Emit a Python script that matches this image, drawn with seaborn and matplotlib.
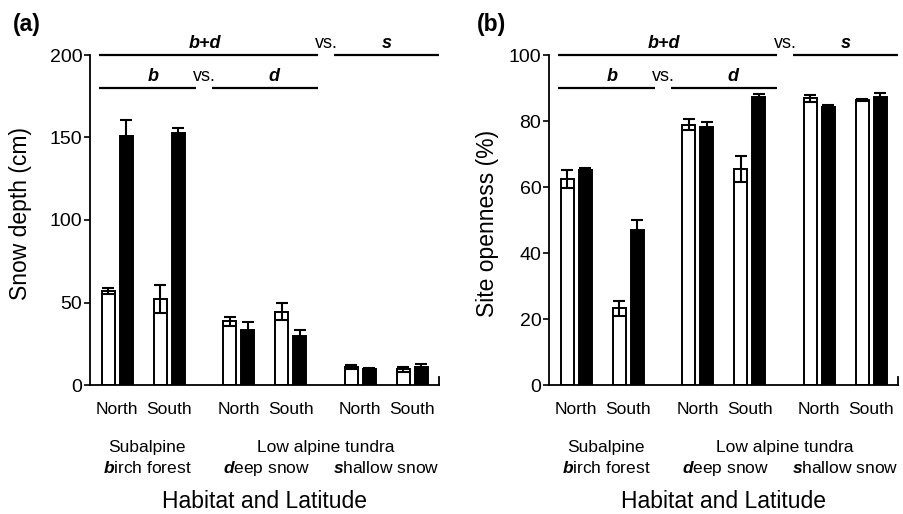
import matplotlib
matplotlib.use("Agg")
import matplotlib.pyplot as plt
import matplotlib.transforms as mtransforms
import numpy as np
import pandas as pd
import seaborn as sns

# ---------------- data ----------------
latitudes = ["North", "South", "North", "South", "North", "South"]
habitat_groups = ["b", "b", "d", "d", "s", "s"]
series_names = ["open bars", "filled bars"]

snow_white = [57, 52, 38.5, 44.5, 11, 9.5]
snow_white_err = [2, 8.5, 3, 5, 1, 1.7]
snow_black = [151, 153, 33.5, 30, 9.8, 11.2]
snow_black_err = [9.5, 3, 4.5, 3.4, 0.5, 1.5]

open_white = [62.5, 23.2, 78.9, 65.4, 86.9, 86.4]
open_white_err = [2.7, 2.3, 1.6, 4.0, 1.0, 0.4]
open_black = [65.0, 47.1, 78.3, 87.4, 84.1, 87.4]
open_black_err = [0.8, 3.0, 1.3, 0.7, 0.6, 1.0]

ylabels = ["Snow depth (cm)", "Site openness (%)"]
yticks_list = [[0, 50, 100, 150, 200], [0, 20, 40, 60, 80, 100]]
ylims = [200, 100]
panel_tags = ["(a)", "(b)"]

# ---------------- style ----------------
plt.rcParams["font.family"] = ["Liberation Sans", "DejaVu Sans"]
plt.rcParams["mathtext.fontset"] = "custom"
plt.rcParams["mathtext.rm"] = "Liberation Sans"
plt.rcParams["mathtext.it"] = "Liberation Sans:italic"
plt.rcParams["mathtext.bf"] = "Liberation Sans:bold"
try:
    plt.rcParams["mathtext.bfit"] = "Liberation Sans:italic:bold"
    BFIT = r"\mathbfit"
except KeyError:
    BFIT = r"\mathbf"

GROUP_STEP = 2.34
group_index = {"b": 0, "d": 1, "s": 2}
positions = [group_index[g] * GROUP_STEP + (0 if lat == "North" else 1)
             for g, lat in zip(habitat_groups, latitudes)]

fig = plt.figure(figsize=(9.04, 5.14), dpi=100)
W, H = 904, 514
ax_w = 349.4 / W
ax_h = 330 / H
ax_b = (H - 385) / H
axes = [fig.add_axes([90 / W, ax_b, ax_w, ax_h]),
        fig.add_axes([549 / W, ax_b, ax_w, ax_h])]

datasets = [
    (snow_white, snow_white_err, snow_black, snow_black_err),
    (open_white, open_white_err, open_black, open_black_err),
]
ylabel_pos = [(-0.2, 0.52), (-0.175, 0.49)]
tag_x = [13 / W, 477 / W]

for k, ax in enumerate(axes):
    w, we, b, be = datasets[k]
    df = pd.DataFrame({
        "pos": positions * 2,
        "value": list(w) + list(b),
        "series": [series_names[0]] * 6 + [series_names[1]] * 6,
    })
    sns.barplot(data=df, x="pos", y="value", hue="series",
                hue_order=series_names, palette=["white", "black"],
                native_scale=True, width=0.692, gap=0.277, errorbar=None,
                edgecolor="black", linewidth=1.4, legend=False, ax=ax)
    errs = [we, be]
    for ci, cont in enumerate(ax.containers[:2]):
        for bar, e in zip(cont, errs[ci]):
            cx = bar.get_x() + bar.get_width() / 2
            ax.errorbar(cx, bar.get_height(), yerr=e, fmt="none",
                        ecolor="black", elinewidth=1.5, capsize=4,
                        capthick=1.5, zorder=5)

    ax.set_xlim(-0.52, 6.2)
    ax.set_ylim(0, ylims[k])
    ax.set_yticks(yticks_list[k])
    ax.set_xticks(positions)
    ax.set_xticklabels(latitudes)
    ax.set_xlabel("")
    ax.set_ylabel("")
    for s in ["top", "right"]:
        ax.spines[s].set_visible(False)
    for s in ["left", "bottom"]:
        ax.spines[s].set_linewidth(1.3)
    ax.tick_params(axis="y", direction="out", length=4.5, width=1.2,
                   pad=1, labelsize=14)
    ax.tick_params(axis="x", length=0, pad=12, labelsize=12.5)

    trans = mtransforms.blended_transform_factory(ax.transData, ax.transAxes)
    # small upward tick at right end of the x axis
    ax.plot([6.2, 6.2], [0, 0.025], transform=trans, color="black",
            lw=1.3, clip_on=False)

    # comparison lines
    lk = dict(transform=trans, color="black", lw=1.6, clip_on=False,
              solid_capstyle="butt")
    ax.plot([-0.35, 3.86], [1.0, 1.0], **lk)
    ax.plot([4.18, 6.2], [1.0, 1.0], **lk)
    ax.plot([-0.35, 1.51], [0.899, 0.899], **lk)
    ax.plot([1.82, 3.86], [0.899, 0.899], **lk)
    tk = dict(transform=trans, ha="center", va="baseline", fontsize=13,
              clip_on=False)
    ax.text(1.7, 1.021, "b+d", fontweight="bold", style="italic", **tk)
    ax.text(4.02, 1.021, "vs.", **tk)
    ax.text(5.19, 1.021, "s", fontweight="bold", style="italic", **tk)
    ax.text(0.69, 0.921, "b", fontweight="bold", style="italic", **tk)
    ax.text(1.68, 0.921, "vs.", **tk)
    ax.text(3.01, 0.921, "d", fontweight="bold", style="italic", **tk)

    # habitat labels
    hk = dict(transform=trans, ha="center", va="baseline", fontsize=12.5,
              clip_on=False)
    ax.text(0.58, -0.203, "Subalpine", **hk)
    ax.text(4.02, -0.203, "Low alpine tundra", **hk)
    ax.text(0.58, -0.266, "$" + BFIT + "{b}$irch forest", **hk)
    ax.text(2.88, -0.266, "$" + BFIT + "{d}$eep snow", **hk)
    ax.text(5.18, -0.266, "$" + BFIT + "{s}$hallow snow", **hk)
    ax.text(0.5, -0.372, "Habitat and Latitude", transform=ax.transAxes,
            ha="center", va="baseline", fontsize=16.5, clip_on=False)

    ax.text(ylabel_pos[k][0], ylabel_pos[k][1], ylabels[k],
            transform=ax.transAxes, rotation=90, ha="center", va="center",
            fontsize=16.5)

    fig.text(tag_x[k], 1 - 24 / H, panel_tags[k], ha="left", va="center",
             fontsize=16.5, fontweight="bold")

fig.savefig("out.png", dpi=100)
